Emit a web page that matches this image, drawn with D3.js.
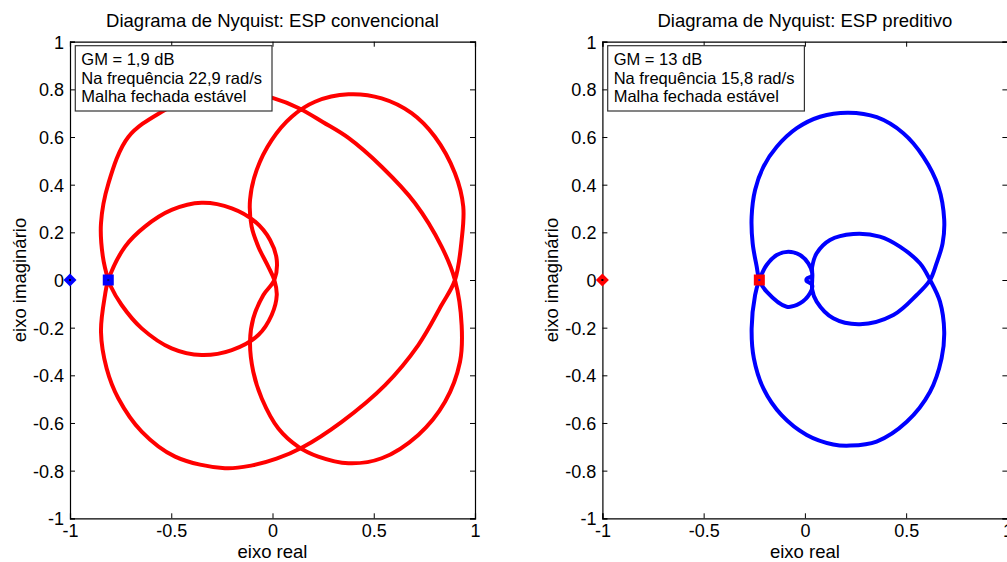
<!DOCTYPE html>
<html>
<head>
<meta charset="utf-8">
<script src="https://cdn.jsdelivr.net/npm/d3@7"></script>
<style>
  html, body { margin: 0; padding: 0; background: #fff; overflow: hidden; }
  svg { display: block; font-family: "Liberation Sans", Arial, Helvetica, sans-serif; }
</style>
</head>
<body>
<svg id="chart" width="1007" height="562"></svg>
<script>
// ---------------- DATA ----------------
const xTicks = [-1, -0.5, 0, 0.5, 1];
const yTicks = [1, 0.8, 0.6, 0.4, 0.2, 0, -0.2, -0.4, -0.6, -0.8, -1];

const titles = ["Diagrama de Nyquist: ESP convencional", "Diagrama de Nyquist: ESP preditivo"];
const xLabel = "eixo real";
const yLabel = "eixo imaginário";

const legendConvencional = ["GM = 1,9 dB", "Na frequência 22,9 rad/s", "Malha fechada estável"];
const legendPreditivo = ["GM = 13 dB", "Na frequência 15,8 rad/s", "Malha fechada estável"];

// Nyquist curve, ESP convencional: [real, imag] along the closed path
const curveConvencional = [
  // outer arc, upper
  [-0.811, 0], [-0.838, 0.10], [-0.847, 0.238], [-0.81, 0.406], [-0.712, 0.60], [-0.547, 0.706],
  [-0.40, 0.763], [-0.235, 0.79], [-0.10, 0.782], [0.0, 0.764], [0.128, 0.722], [0.25, 0.662],
  [0.375, 0.596], [0.539, 0.475], [0.704, 0.322], [0.835, 0.14], [0.901, 0],
  // right loop, lower
  [0.934, -0.189], [0.926, -0.343], [0.852, -0.511], [0.72, -0.65], [0.539, -0.748], [0.375, -0.769],
  [0.226, -0.741], [0.128, -0.70], [0.029, -0.623], [-0.053, -0.497], [-0.095, -0.385], [-0.111, -0.259],
  [-0.095, -0.161], [-0.045, -0.063], [0.009, 0],
  // inner loop, upper
  [0.021, 0.084], [-0.012, 0.168], [-0.086, 0.245], [-0.201, 0.301], [-0.35, 0.324], [-0.498, 0.294],
  [-0.63, 0.224], [-0.728, 0.14], [-0.811, 0],
  // outer arc, lower
  [-0.827, -0.063], [-0.847, -0.217], [-0.819, -0.371], [-0.761, -0.497], [-0.646, -0.636], [-0.481, -0.741],
  [-0.235, -0.79], [-0.10, -0.778], [0.02, -0.75], [0.144, -0.704], [0.342, -0.595], [0.556, -0.441],
  [0.72, -0.273], [0.835, -0.105], [0.901, 0],
  // right loop, upper
  [0.934, 0.168], [0.942, 0.308], [0.901, 0.448], [0.802, 0.601], [0.687, 0.70], [0.539, 0.762],
  [0.375, 0.779], [0.21, 0.748], [0.095, 0.685], [-0.004, 0.587], [-0.078, 0.462], [-0.111, 0.336],
  [-0.103, 0.224], [-0.07, 0.14], [-0.021, 0.056], [0.009, 0],
  // inner loop, lower
  [0.021, -0.063], [-0.004, -0.147], [-0.07, -0.231], [-0.201, -0.294], [-0.35, -0.315], [-0.498, -0.287],
  [-0.646, -0.203], [-0.745, -0.105], [-0.802, -0.021]
];

// Nyquist curve, ESP preditivo
const curvePreditivo = [
  // outer loop, upper
  [-0.225, 0], [-0.238, 0.056], [-0.258, 0.154], [-0.263, 0.266], [-0.246, 0.378], [-0.205, 0.475],
  [-0.139, 0.559], [-0.04, 0.637], [0.075, 0.685], [0.214, 0.702], [0.355, 0.683], [0.486, 0.616],
  [0.585, 0.517], [0.659, 0.392], [0.688, 0.252], [0.68, 0.154], [0.65, 0.07], [0.618, 0],
  // inner right loop, lower
  [0.552, -0.063], [0.437, -0.147], [0.272, -0.186], [0.14, -0.161], [0.058, -0.091], [0.036, -0.04],
  [0.036, 0],
  // small left loop, upper
  [0.036, 0.03], [0.017, 0.07], [-0.024, 0.105], [-0.082, 0.119], [-0.139, 0.105], [-0.189, 0.063],
  [-0.225, 0],
  // outer loop, lower
  [-0.246, -0.063], [-0.263, -0.203], [-0.252, -0.329], [-0.205, -0.455], [-0.115, -0.567], [0.009, -0.65],
  [0.14, -0.69], [0.223, -0.695], [0.354, -0.678], [0.503, -0.595], [0.618, -0.469], [0.675, -0.329],
  [0.688, -0.217], [0.667, -0.091], [0.618, 0],
  // inner right loop, upper
  [0.568, 0.07], [0.469, 0.14], [0.37, 0.182], [0.239, 0.193], [0.124, 0.168], [0.058, 0.112],
  [0.036, 0.056], [0.034, 0.016],
  // tiny loop near origin
  [0.02, 0.01], [0.01, 0.006], [0.007, 0], [0.01, -0.006], [0.02, -0.01],
  // small left loop, lower
  [0.036, -0.022], [0.025, -0.056], [-0.024, -0.098], [-0.09, -0.112], [-0.189, -0.049]
];

// markers: critical point and gain-margin crossing
const criticalPoint = [-1, 0];
const gmPointConvencional = [-0.811, 0];
const gmPointPreditivo = [-0.225, 0];

// ---------------- DRAW ----------------
const svg = d3.select("#chart");
svg.append("rect").attr("width", 1007).attr("height", 562).attr("fill", "#fff");

const panels = [
  { x0: 70, x1: 475, title: titles[0], curve: curveConvencional, color: "#ff0000", other: "#0000ff",
    legend: legendConvencional, gm: gmPointConvencional },
  { x0: 602.4, x1: 1007.4, title: titles[1], curve: curvePreditivo, color: "#0000ff", other: "#ff0000",
    legend: legendPreditivo, gm: gmPointPreditivo }
];
const yTop = 41.7, yBot = 518.3;

panels.forEach((p, i) => {
  const x = d3.scaleLinear().domain([-1, 1]).range([p.x0, p.x1]);
  const y = d3.scaleLinear().domain([-1, 1]).range([yBot, yTop]);
  const g = svg.append("g");
  const cx = (p.x0 + p.x1) / 2;

  // curve
  const line = d3.line().x(d => x(d[0])).y(d => y(d[1])).curve(d3.curveCatmullRomClosed.alpha(0.5));
  g.append("path").datum(p.curve).attr("d", line)
    .attr("fill", "none").attr("stroke", p.color).attr("stroke-width", 4)
    .attr("stroke-linejoin", "round");

  // axes frame and ticks (inward, all four sides)
  const fmt = v => String(v);
  const axB = d3.axisBottom(x).tickValues(xTicks).tickSize(-5).tickPadding(8).tickFormat(fmt);
  const axT = d3.axisTop(x).tickValues(xTicks).tickSize(-5).tickFormat("");
  const axL = d3.axisLeft(y).tickValues(yTicks).tickSize(-5).tickPadding(8).tickFormat(fmt);
  const axR = d3.axisRight(y).tickValues(yTicks).tickSize(-5).tickFormat("");

  const gB = g.append("g").attr("transform", `translate(0,${yBot})`).call(axB);
  const gT = g.append("g").attr("transform", `translate(0,${yTop})`).call(axT);
  const gL = g.append("g").attr("transform", `translate(${p.x0},0)`).call(axL);
  const gR = g.append("g").attr("transform", `translate(${p.x1},0)`).call(axR);
  [gB, gT, gL, gR].forEach(a => {
    a.select(".domain").attr("stroke", "#000").attr("stroke-width", 1.2);
    a.selectAll(".tick line").attr("stroke", "#000");
    a.selectAll("text").attr("font-size", 18).attr("fill", "#000")
      .attr("font-family", '"Liberation Sans", Arial, sans-serif');
  });
  gL.selectAll(".tick text").attr("dy", "0.36em").attr("x", -6);
  gB.selectAll(".tick text").attr("dy", "0.72em").attr("y", 6);

  // markers
  const d = 6.5;
  const [cxp, cyp] = [x(criticalPoint[0]), y(criticalPoint[1])];
  g.append("path").attr("d", `M${cxp},${cyp - d}L${cxp + d},${cyp}L${cxp},${cyp + d}L${cxp - d},${cyp}Z`)
    .attr("fill", p.other);
  g.append("rect").attr("x", cxp - 1).attr("y", cyp - 1).attr("width", 2).attr("height", 2).attr("fill", "#000");
  const [gx, gy] = [x(p.gm[0]), y(p.gm[1])];
  g.append("rect").attr("x", gx - 5.5).attr("y", gy - 5.5).attr("width", 11).attr("height", 11).attr("fill", p.other);
  g.append("rect").attr("x", gx - 1).attr("y", gy - 1).attr("width", 2).attr("height", 2)
    .attr("fill", i === 0 ? "#000080" : "#0000ff");

  // legend box
  const lx = p.x0 + 5.3, ly = 45.7;
  g.append("rect").attr("x", lx).attr("y", ly).attr("width", 196.7).attr("height", 65.3)
    .attr("fill", "#fff").attr("stroke", "#333").attr("stroke-width", 1.2);
  p.legend.forEach((t, k) => {
    g.append("text").attr("x", lx + 6).attr("y", 65 + k * 18.5).text(t)
      .attr("font-size", 16.5).attr("fill", "#000");
  });

  // title
  g.append("text").attr("x", cx).attr("y", 27).attr("text-anchor", "middle")
    .attr("font-size", 18.5).attr("fill", "#000").text(p.title);
  // x label
  g.append("text").attr("x", cx).attr("y", 558).attr("text-anchor", "middle")
    .attr("font-size", 18.5).attr("fill", "#000").text(xLabel);
  // y label
  g.append("text").attr("transform", `translate(${p.x0 - 44},${(yTop + yBot) / 2}) rotate(-90)`)
    .attr("text-anchor", "middle").attr("font-size", 18.5).attr("fill", "#000").text(yLabel);
});
</script>
</body>
</html>
